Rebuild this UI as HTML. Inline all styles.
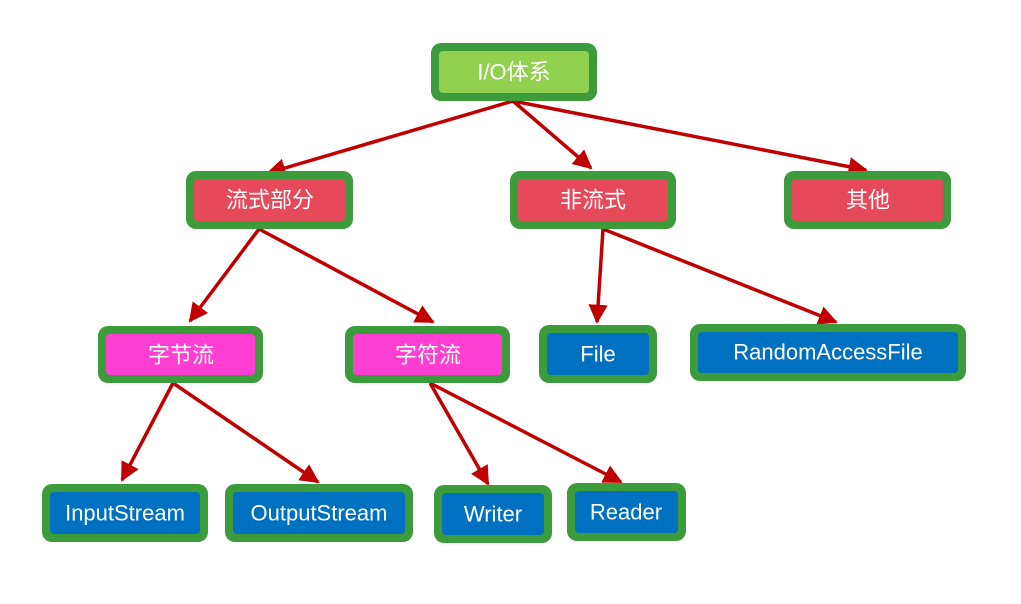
<!DOCTYPE html>
<html><head><meta charset="utf-8"><style>
html,body{margin:0;padding:0;background:#fff;width:1021px;height:604px;overflow:hidden}
text{font-family:"Liberation Sans","Noto Sans CJK SC",sans-serif;fill:#fff;font-size:22px;text-anchor:middle;dominant-baseline:central}
</style></head><body>
<svg width="1021" height="604" viewBox="0 0 1021 604" xmlns="http://www.w3.org/2000/svg">
<defs><marker id="a" viewBox="0 0 10 10" refX="9" refY="5" markerWidth="5.5" markerHeight="5.5" orient="auto"><path d="M0,0L10,5L0,10z" fill="#c00000"/></marker></defs>
<g stroke="#c00000" stroke-width="3.5" marker-end="url(#a)" fill="none">
<line x1="513" y1="101" x2="268" y2="173"/>
<line x1="513" y1="101" x2="591" y2="168"/>
<line x1="513" y1="101" x2="866" y2="170"/>
<line x1="259" y1="229" x2="190" y2="321"/>
<line x1="259" y1="229" x2="433" y2="322"/>
<line x1="603" y1="229" x2="597" y2="322"/>
<line x1="603" y1="229" x2="836" y2="322"/>
<line x1="173" y1="383" x2="122" y2="480"/>
<line x1="173" y1="383" x2="318" y2="482"/>
<line x1="430" y1="383" x2="488" y2="484"/>
<line x1="430" y1="383" x2="621" y2="482"/>
</g>
<g>
<rect x="431" y="43" width="166" height="58" rx="10" fill="#3c9c3c"/><rect x="439" y="51" width="150" height="42" rx="4" fill="#92d050"/><text x="514" y="72">I/O体系</text>
<rect x="186" y="171" width="167" height="58" rx="10" fill="#3c9c3c"/><rect x="194" y="179" width="151" height="42" rx="4" fill="#e64a5a"/><text x="270" y="200">流式部分</text>
<rect x="510" y="171" width="166" height="58" rx="10" fill="#3c9c3c"/><rect x="518" y="179" width="150" height="42" rx="4" fill="#e64a5a"/><text x="593" y="200">非流式</text>
<rect x="784" y="171" width="167" height="58" rx="10" fill="#3c9c3c"/><rect x="792" y="179" width="151" height="42" rx="4" fill="#e64a5a"/><text x="868" y="200">其他</text>
<rect x="98" y="326" width="165" height="57" rx="10" fill="#3c9c3c"/><rect x="106" y="334" width="149" height="41" rx="4" fill="#ff3fd2"/><text x="181" y="355">字节流</text>
<rect x="345" y="326" width="165" height="57" rx="10" fill="#3c9c3c"/><rect x="353" y="334" width="149" height="41" rx="4" fill="#ff3fd2"/><text x="428" y="355">字符流</text>
<rect x="539" y="325" width="118" height="58" rx="10" fill="#3c9c3c"/><rect x="547" y="333" width="102" height="42" rx="4" fill="#0070c0"/><text x="598" y="354">File</text>
<rect x="690" y="324" width="276" height="57" rx="10" fill="#3c9c3c"/><rect x="698" y="332" width="260" height="41" rx="4" fill="#0070c0"/><text x="828" y="352">RandomAccessFile</text>
<rect x="42" y="484" width="166" height="58" rx="10" fill="#3c9c3c"/><rect x="50" y="492" width="150" height="42" rx="4" fill="#0070c0"/><text x="125" y="513">InputStream</text>
<rect x="225" y="484" width="188" height="58" rx="10" fill="#3c9c3c"/><rect x="233" y="492" width="172" height="42" rx="4" fill="#0070c0"/><text x="319" y="513">OutputStream</text>
<rect x="434" y="485" width="118" height="58" rx="10" fill="#3c9c3c"/><rect x="442" y="493" width="102" height="42" rx="4" fill="#0070c0"/><text x="493" y="514">Writer</text>
<rect x="567" y="483" width="119" height="58" rx="10" fill="#3c9c3c"/><rect x="575" y="491" width="103" height="42" rx="4" fill="#0070c0"/><text x="626" y="512">Reader</text>
</g>
</svg>
</body></html>
